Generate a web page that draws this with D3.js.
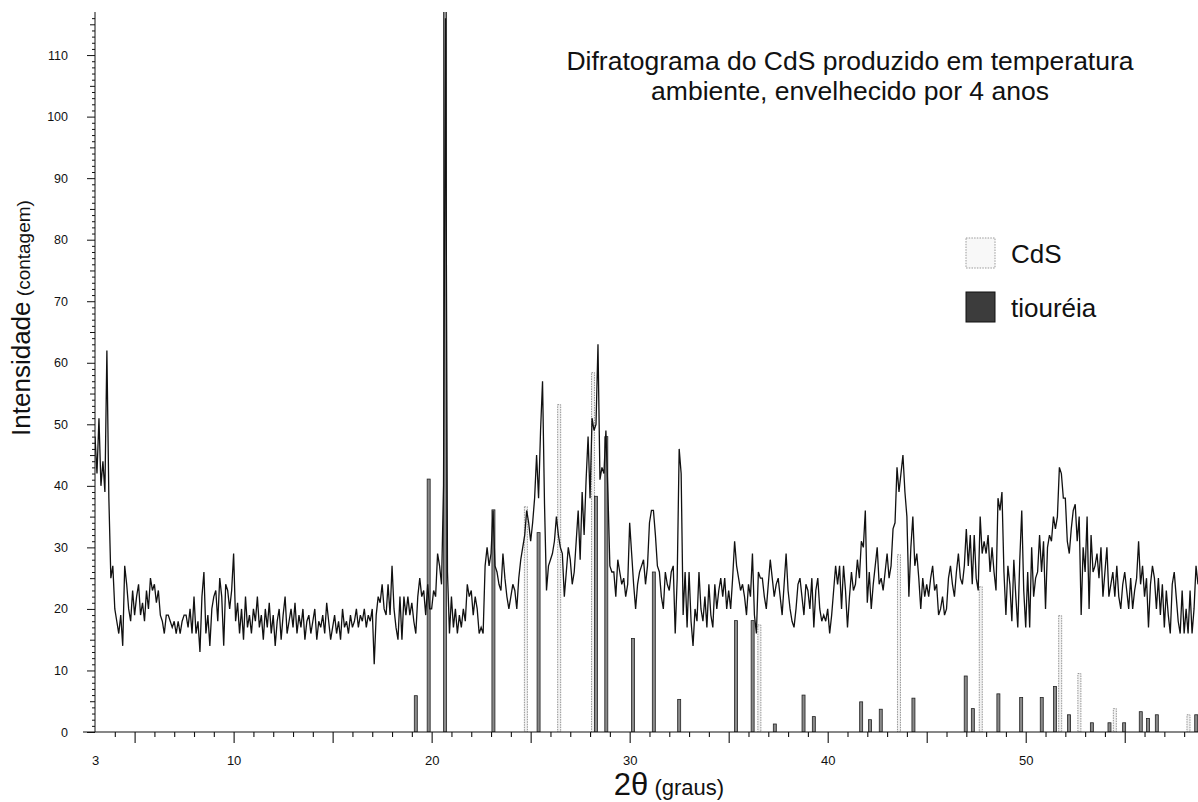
<!DOCTYPE html>
<html><head><meta charset="utf-8">
<script src="https://cdn.jsdelivr.net/npm/d3@7"></script>
<style>
body{margin:0;background:#fff}
svg{display:block}
text{font-family:"Liberation Sans",Arial,sans-serif;fill:#111}
</style>
</head><body>
<svg id="chart" width="1198" height="802"></svg>
<script>
// ---- data ----
const angleStart = 3.0;   // first 2θ sample (graus)
const angleStep = 0.1;    // sampling step (graus)
const intensity = [
48,42,51,40,44,39,62,38,25,27,
20,18,16,19,14,27,24,20,18,23,
19,22,24,19,21,18,23,20,25,23,
24,21,23,19,18,16,19,19,18,17,
18,16,18,16,18,19,19,17,20,16,
22,16,18,13,22,26,16,19,14,20,
22,23,18,25,22,14,24,23,20,23,
29,18,21,16,20,15,22,17,19,16,
20,18,22,17,19,15,20,17,21,16,
19,14,18,20,15,19,22,16,18,20,
17,21,16,19,17,20,15,18,19,16,
18,20,15,18,17,19,16,21,18,15,
17,19,16,18,15,20,17,18,16,19,
17,18,20,17,19,18,20,17,19,18,
20,11,19,22,21,24,20,19,24,19,
27,20,17,15,22,15,22,19,22,19,
21,18,16,22,25,22,23,19,24,20,
20,23,22,29,27,24,40,116,26,16,
22,17,20,16,19,17,20,18,24,22,
23,19,22,20,16,17,16,27,30,27,
29,36,27,26,24,23,29,25,22,20,
22,24,23,20,25,28,30,32,36,34,
31,34,38,45,38,49,57,37,23,27,
28,29,31,35,32,30,29,22,26,30,
28,24,26,31,36,28,39,32,41,48,
38,51,49,50,63,41,43,42,49,39,
27,26,26,22,28,26,24,25,22,24,
34,29,24,20,24,26,27,28,24,27,
34,36,36,32,27,26,22,20,26,24,
23,26,27,16,25,46,42,19,26,17,
26,18,14,20,18,26,20,18,22,17,
24,19,17,24,20,23,25,22,25,20,
23,20,25,31,27,25,23,24,22,19,
24,22,29,19,16,26,25,25,22,20,
24,28,25,22,24,25,22,19,24,29,
23,20,18,17,20,24,25,22,19,24,
23,20,25,17,23,25,20,18,19,18,
20,16,19,23,27,24,27,20,27,23,
17,22,26,23,24,28,25,31,30,36,
21,26,20,24,27,30,24,25,23,26,
29,25,27,33,34,43,39,42,45,39,
35,22,30,35,27,29,25,20,25,22,
24,22,25,27,23,24,19,20,22,19,
20,25,27,24,22,26,29,25,24,27,
33,27,32,24,32,25,23,35,29,31,
29,32,26,30,26,23,38,36,39,26,
19,27,24,18,28,22,17,28,36,23,
17,26,17,30,22,25,26,32,26,31,
20,30,32,31,35,33,35,43,42,38,
38,31,29,33,36,37,31,35,19,30,
26,35,20,32,26,27,29,25,30,22,
26,30,22,24,26,22,27,22,20,24,
26,23,20,25,20,23,25,31,24,27,
22,25,17,24,27,25,20,25,19,24,
17,23,19,16,24,26,22,18,16,23,
16,20,16,23,16,20,27,24
];
// reference stick patterns
const cdsAngles  = [24.76, 26.44, 28.15, 36.55, 43.60, 47.73, 51.74, 52.71, 54.50, 58.22];
const cdsHeights = [36.6, 53.2, 58.4, 17.4, 28.8, 23.6, 18.9, 9.5, 3.8, 2.8];
const thioAngles  = [19.20, 19.85, 20.68, 23.12, 25.40, 28.30, 28.82, 30.17, 31.22, 32.50,
                     35.37, 36.21, 37.33, 38.78, 39.30, 41.69, 42.14, 42.68, 44.33, 46.97,
                     47.33, 48.62, 49.77, 50.81, 51.48, 52.19, 53.34, 54.23, 54.97, 55.81,
                     56.18, 56.62, 58.61];
const thioHeights = [5.9, 41.1, 118, 36.1, 32.4, 38.3, 48, 15.2, 26, 5.3,
                     18.1, 18.1, 1.3, 6.0, 2.5, 4.9, 2.0, 3.7, 5.5, 9.1,
                     3.8, 6.2, 5.6, 5.6, 7.4, 2.8, 1.5, 1.5, 1.5, 3.3,
                     2.2, 2.8, 2.8];
const xTickLabels = [3, 10, 20, 30, 40, 50];
const yTickLabels = [0, 10, 20, 30, 40, 50, 60, 70, 80, 90, 100, 110];
const titleLines = ["Difratograma do CdS produzido em temperatura", "ambiente, envelhecido por 4 anos"];
const legendLabels = ["CdS", "tiouréia"];

// ---- drawing ----
const svg = d3.select("#chart");
const x = d3.scaleLinear().domain([3, 58.7]).range([95, 1198]);
const y = d3.scaleLinear().domain([0, 117]).range([732, 12]);
const points = intensity.map((v, i) => [angleStart + i * angleStep, v]);

svg.append("defs").append("clipPath").attr("id", "clip")
  .append("rect").attr("x", 95).attr("y", 12).attr("width", 1103).attr("height", 720);

const plot = svg.append("g").attr("clip-path", "url(#clip)");

// stick bars
const bw = 3;
plot.selectAll("rect.cds").data(cdsAngles.map((a, i) => [a, cdsHeights[i]])).join("rect")
  .attr("class", "cds")
  .attr("x", d => x(d[0]) - bw / 2).attr("width", bw)
  .attr("y", d => y(d[1])).attr("height", d => y(0) - y(d[1]))
  .attr("fill", "#f2f2f2").attr("stroke", "#8a8a8a").attr("stroke-width", 0.9)
  .attr("stroke-dasharray", "1.5,1");
plot.selectAll("rect.thio").data(thioAngles.map((a, i) => [a, thioHeights[i]])).join("rect")
  .attr("class", "thio")
  .attr("x", d => x(d[0]) - bw / 2).attr("width", bw)
  .attr("y", d => y(d[1])).attr("height", d => y(0) - y(d[1]))
  .attr("fill", "#8a8a8a").attr("stroke", "#222").attr("stroke-width", 0.8);

// diffractogram
plot.append("path").datum(points)
  .attr("d", d3.line().x(d => x(d[0])).y(d => y(d[1])))
  .attr("fill", "none").attr("stroke", "#111").attr("stroke-width", 1.3)
  .attr("stroke-linejoin", "miter");

// x axis
const xg = svg.append("g").attr("transform", "translate(0,732)");
xg.append("line").attr("x1", 83).attr("x2", 1198).attr("y1", 0).attr("y2", 0)
  .attr("stroke", "#111").attr("stroke-width", 1.2);
const xMinor = d3.range(4, 59).filter(v => v % 5 !== 0);
const xMajor = d3.range(5, 59, 5);
xg.append("g").call(d3.axisBottom(x).tickValues(xMinor).tickSize(5).tickSizeOuter(0).tickFormat(""))
  .call(g => g.select(".domain").remove());
xg.append("g").call(d3.axisBottom(x).tickValues(xMajor).tickSize(11).tickSizeOuter(0).tickFormat(""))
  .call(g => g.select(".domain").remove());
xg.append("g").call(d3.axisBottom(x).tickValues(xTickLabels).tickSize(0).tickPadding(24).tickFormat(d3.format("d")))
  .call(g => g.select(".domain").remove())
  .call(g => g.selectAll("text").attr("font-size", 13).attr("font-family", "Liberation Sans, Arial, sans-serif"));
xg.selectAll("line").attr("stroke", "#111").attr("stroke-width", 1.1);

// y axis
const yg = svg.append("g").attr("transform", "translate(95,0)");
yg.append("line").attr("x1", 0).attr("x2", 0).attr("y1", 12).attr("y2", 732)
  .attr("stroke", "#111").attr("stroke-width", 1.2);
yg.append("g").call(d3.axisLeft(y).tickValues(d3.range(0, 117, 1).filter(v => v % 5 !== 0)).tickSize(3).tickSizeOuter(0).tickFormat(""))
  .call(g => g.select(".domain").remove());
yg.append("g").call(d3.axisLeft(y).tickValues(d3.range(5, 117, 10)).tickSize(5).tickSizeOuter(0).tickFormat(""))
  .call(g => g.select(".domain").remove());
yg.append("g").call(d3.axisLeft(y).tickValues(yTickLabels).tickSize(8).tickPadding(19).tickFormat(d3.format("d")))
  .call(g => g.select(".domain").remove())
  .call(g => g.selectAll("text").attr("font-size", 12.5).attr("font-family", "Liberation Sans, Arial, sans-serif"));
yg.selectAll("line").attr("stroke", "#111").attr("stroke-width", 1);

// axis titles
const xt = svg.append("text").attr("x", 669).attr("y", 795).attr("text-anchor", "middle");
xt.append("tspan").attr("font-size", 31).text("2θ");
xt.append("tspan").attr("font-size", 22).text(" (graus)");

const yt = svg.append("text").attr("transform", "translate(30,318) rotate(-90)").attr("text-anchor", "middle");
yt.append("tspan").attr("font-size", 26).text("Intensidade");
yt.append("tspan").attr("font-size", 19).text(" (contagem)");

// title
svg.selectAll("text.title").data(titleLines).join("text")
  .attr("class", "title")
  .attr("x", 850).attr("y", (d, i) => 70 + i * 30)
  .attr("text-anchor", "middle").attr("font-size", 26.5)
  .text(d => d);

// legend
const lg = svg.append("g");
const legendStyles = [
  {fill: "#f8f8f8", stroke: "#999", dash: "1.5,1.2"},
  {fill: "#3c3c3c", stroke: "#111", dash: null}
];
legendLabels.forEach((lab, i) => {
  const yy = 238 + i * 54;
  lg.append("rect").attr("x", 966).attr("y", yy).attr("width", 29).attr("height", 30)
    .attr("fill", legendStyles[i].fill).attr("stroke", legendStyles[i].stroke)
    .attr("stroke-width", 1).attr("stroke-dasharray", legendStyles[i].dash);
  lg.append("text").attr("x", 1011).attr("y", yy + 25).attr("font-size", 26).text(lab);
});
</script>
</body></html>
